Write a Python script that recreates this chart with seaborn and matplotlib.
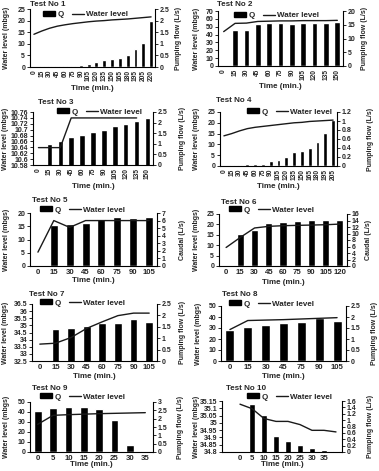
import numpy as np
import pandas as pd
import matplotlib
matplotlib.use("Agg")
import matplotlib.pyplot as plt
import seaborn as sns
from matplotlib.patches import Patch
from matplotlib.lines import Line2D
from matplotlib.ticker import FuncFormatter, FixedLocator

sns.set_style("ticks")
plt.rcParams['font.family'] = ['Liberation Sans', 'DejaVu Sans']
plt.rcParams['font.weight'] = 'bold'

nan = np.nan

# ---------------- data ----------------
cats1 = [0, 15, 30, 45, 60, 75, 90, 105, 120, 135, 150, 165, 180, 195, 205, 220]
bars1 = [0, 0.3, 0.4, 0.4, 0.3, 0.4, 1.0, 1.4, 2.0, 2.9, 3.3, 4.0, 5.2, 7.6, 10.4, 19.8]
line1 = [1.41, 1.55, 1.67, 1.76, 1.82, 1.87, 1.91, 1.95, 1.98, 2.0, 2.03, 2.05, 2.07, 2.1, 2.13, 2.16]

cats2 = [0, 15, 30, 45, 60, 75, 90, 105, 120, 135, 150]
bars2 = [0, 45.5, 45.5, 53.5, 55, 55, 53.5, 55, 55, 55, 55.5]
line2 = [12.5, 15.5, 15.6, 16.2, 16.3, 16.4, 16.4, 16.5, 16.5, 16.5, 16.6]

cats3 = [0, 15, 30, 45, 60, 75, 90, 105, 120, 135, 150]
bars3 = [0, 10.653, 10.663, 10.674, 10.681, 10.691, 10.700, 10.712, 10.720, 10.728, 10.740]
line3 = [0.82, 0.82, 0.82, 2.22, 2.22, 2.22, 2.22, 2.22, 2.22, 2.22, nan]

cats4 = [0, 15, 30, 45, 60, 75, 90, 105, 120, 135, 150, 165, 180, 195, 205]
bars4 = [0, 0.6, 0.6, 0.8, 0.8, 1.1, 2.3, 2.9, 4.2, 6.6, 7.1, 8.5, 11.3, 15.5, 21.5]
line4 = [0.67, 0.72, 0.78, 0.83, 0.86, 0.88, 0.90, 0.92, 0.94, 0.96, 0.97, 0.99, 1.0, 1.01, 1.02]

cats5 = [0, 15, 30, 45, 60, 75, 90, 105]
bars5 = [0, 15.4, 15.9, 16.3, 17.8, 18.4, 18.3, 18.5]
line5 = [1.83, 6.0, 5.1, 6.0, 6.0, 6.0, 6.0, 6.0]

cats6 = [0, 15, 30, 45, 60, 75, 90, 105, 120]
bars6 = [0, 15.3, 17.3, 20.6, 21.3, 21.5, 22.3, 22.3, 22.3]
line6 = [5.7, 8.8, 11.7, 12.2, 12.4, 12.5, 12.6, 12.7, 12.9]

cats7 = [0, 15, 30, 45, 60, 75, 90, 105]
bars7 = [0, 34.76, 34.81, 34.97, 35.16, 35.2, 35.44, 35.25]
line7 = [0.74, 0.78, 1.03, 1.43, 1.72, 1.99, 2.1, 2.1]

cats8 = [0, 15, 30, 45, 75, 90, 105]
bars8 = [28.2, 30.7, 32.5, 35.0, 35.6, 39.0, 36.8]
line8 = [1.43, 1.84, 1.86, 1.88, 1.91, 1.94, 1.97]

cats9 = [0, 5, 10, 15, 20, 25, 30, 35]
bars9 = [40.7, 44.3, 45.0, 45.0, 43.0, 32.3, 7.3, 0.7]
line9 = [1.66, 2.2, 2.24, 2.27, 2.3, 2.32, 2.34, 2.36]

cats10 = [' ', '0', '5', '10', '15', '20', '25', '30', '35', '']
bars10 = [0, 0, 35.127, 35.052, 34.91, 34.873, 34.846, 34.827, 34.811, 34.805]
line10 = [nan, 1.5, 1.36, 1.05, 0.96, 0.96, 0.86, 0.68, 0.68, 0.63]

# ---------------- layout helpers ----------------
W, H = 379, 471
fig = plt.figure(figsize=(W / 100, H / 100), dpi=100)


def fx(x):
    return x / W


def fy(y):
    return 1 - y / H


def fmt(v, pos=None):
    s = f"{v:.2f}".rstrip('0').rstrip('.')
    return s


TICK = 5.0
LAB = 5.0
LINEC = '#1a1a1a'

panels = [
    dict(c=cats1, b=bars1, l=line1, box=(30, 155, 9, 67), yl=(0, 25), yt=np.arange(0, 26, 5),
         yr=(0, 2.5), ytr=np.arange(0, 2.51, 0.5), t="Test No 1", rl="Pumping flow (L/s)", rot=90,
         tp=(30, 4), lp=(43, 14.5), xly=89, llx=7, rlx=179),
    dict(c=cats2, b=bars2, l=line2, box=(218, 343, 11, 66), yl=(0, 70), yt=np.arange(0, 71, 10),
         yr=(0, 20), ytr=np.arange(0, 21, 5), t="Test No 2", rl="Pumping flow (L/s)", rot=90,
         tp=(217, 4.5), lp=(234, 15.7), xly=87, llx=196, rlx=365),
    dict(c=cats3, b=bars3, l=line3, box=(33, 153, 112, 165), yl=(10.58, 10.76),
         yt=np.arange(10.58, 10.7601, 0.02), yr=(0, 2.5), ytr=np.arange(0, 2.51, 0.5),
         t="Test No 3", rl="Pumping flow (L/s)", rot=90,
         tp=(38, 102), lp=(57, 112), xly=186, llx=6, rlx=183),
    dict(c=cats4, b=bars4, l=line4, box=(220, 337, 112, 166), yl=(0, 25), yt=np.arange(0, 26, 5),
         yr=(0, 1.2), ytr=np.arange(0, 1.21, 0.2), t="Test No 4", rl="Pumping flow (L/s)", rot=90,
         tp=(216, 101), lp=(247, 112), xly=187, llx=197, rlx=371),
    dict(c=cats5, b=bars5, l=line5, box=(30, 157, 213, 266), yl=(0, 20), yt=np.arange(0, 21, 5),
         yr=(0, 7), ytr=np.arange(0, 8, 1), t="Test No 5", rl="Caudal (L/s)", rot=0,
         tp=(32, 201), lp=(40, 210), xly=281, llx=7, rlx=182),
    dict(c=cats6, b=bars6, l=line6, box=(219, 347, 214, 266), yl=(0, 25), yt=np.arange(0, 26, 5),
         yr=(0, 16), ytr=np.arange(0, 17, 2), t="Test No 6", rl="Caudal (L/s)", rot=0,
         tp=(221, 203), lp=(229, 210), xly=283, llx=197, rlx=369),
    dict(c=cats7, b=bars7, l=line7, box=(32, 157, 304, 361), yl=(32.5, 36.5),
         yt=np.arange(32.5, 36.51, 0.5), yr=(0, 2.5), ytr=np.arange(0, 2.51, 0.5),
         t="Test No 7", rl="Pumping flow (L/s)", rot=0,
         tp=(29, 294), lp=(40, 303), xly=377, llx=6, rlx=182),
    dict(c=cats8, b=bars8, l=line8, box=(221, 346, 306, 361), yl=(0, 50), yt=np.arange(0, 51, 10),
         yr=(0, 2.5), ytr=np.arange(0, 2.51, 0.5), t="Test No 8", rl="Pumping flow (L/s)", rot=0,
         tp=(222, 295), lp=(229, 304), xly=377, llx=198, rlx=374),
    dict(c=cats9, b=bars9, l=line9, box=(30, 153, 402, 452), yl=(0, 50), yt=np.arange(0, 51, 10),
         yr=(0, 3), ytr=np.arange(0, 3.01, 0.5), t="Test No 9", rl="Pumping flow (L/s)", rot=0,
         tp=(32, 388), lp=(40, 397), xly=465, llx=7, rlx=181),
    dict(c=cats10, b=bars10, l=line10, box=(222, 342, 401, 452), yl=(34.8, 35.15),
         yt=np.arange(34.8, 35.1501, 0.05), yr=(0, 1.6), ytr=np.arange(0, 1.61, 0.2),
         t="Test No 10", rl="Pumping flow (L/s)", rot=0,
         tp=(226, 389), lp=(247, 397), xly=464, llx=197, rlx=370),
]

for p in panels:
    l, r, t, b = p['box']
    ax = fig.add_axes([fx(l), fy(b), fx(r - l), (b - t) / H])
    labels = [str(c) for c in p['c']]
    n = len(labels)
    df = pd.DataFrame({'Time': labels, 'Val': p['b']})
    sns.barplot(data=df, x='Time', y='Val', order=labels, ax=ax, color='black',
                saturation=1, width=0.5, errorbar=None)
    ax2 = ax.twinx()
    sns.lineplot(x=np.arange(n), y=p['l'], ax=ax2, color=LINEC, linewidth=1.0)
    ax.set_xlim(-0.5, n - 0.5)
    ax.set_ylim(*p['yl'])
    ax.yaxis.set_major_locator(FixedLocator(p['yt']))
    ax.yaxis.set_major_formatter(FuncFormatter(fmt))
    ax2.set_ylim(*p['yr'])
    ax2.yaxis.set_major_locator(FixedLocator(p['ytr']))
    ax2.yaxis.set_major_formatter(FuncFormatter(fmt))
    ax.set_xlabel('')
    ax.set_ylabel('')
    ax2.set_ylabel('')
    xsize = 4.8 if p['rot'] == 90 else 5.6
    ax.tick_params(axis='x', length=0, labelsize=xsize, pad=2, labelrotation=p['rot'])
    ax.tick_params(axis='y', length=2, width=0.7, labelsize=TICK, pad=1.5)
    ax2.tick_params(axis='y', length=2, width=0.7, labelsize=TICK, pad=1.5)
    for a in (ax, ax2):
        a.spines['top'].set_visible(False)
        for s in ('left', 'right', 'bottom'):
            a.spines[s].set_linewidth(0.8)
            a.spines[s].set_color('black')
    ax.spines['right'].set_visible(False)
    ax2.spines['left'].set_visible(False)
    ax2.spines['bottom'].set_visible(False)
    for lab in ax.get_xticklabels() + ax.get_yticklabels() + ax2.get_yticklabels():
        lab.set_fontweight('bold')

    # texts
    cy = (t + b) / 2
    fig.text(fx(p['tp'][0]), fy(p['tp'][1]), p['t'], fontsize=5.8, fontweight='bold',
             ha='left', va='center')
    fig.text(fx((l + r) / 2), fy(p['xly']), "Time (min.)", fontsize=5.8, fontweight='bold',
             ha='center', va='center')
    fig.text(fx(p['llx']), fy(cy), "Water level (mbgs)", fontsize=LAB, fontweight='bold',
             rotation=90, ha='center', va='center')
    fig.text(fx(p['rlx']), fy(cy), p['rl'], fontsize=LAB, fontweight='bold',
             rotation=90, ha='center', va='center')

    handles = [Patch(facecolor='black', edgecolor='black'),
               Line2D([], [], color=LINEC, linewidth=1.0)]
    fig.legend(handles, ['Q', 'Water level'], loc='center left',
               bbox_to_anchor=(fx(p['lp'][0]), fy(p['lp'][1])), bbox_transform=fig.transFigure,
               ncol=2, frameon=False, prop={'weight': 'bold', 'size': 5.8},
               handlelength=1.5, handleheight=0.5, handletextpad=0.3, columnspacing=1.0,
               borderpad=0, borderaxespad=0)

fig.savefig("out.png", dpi=100)
